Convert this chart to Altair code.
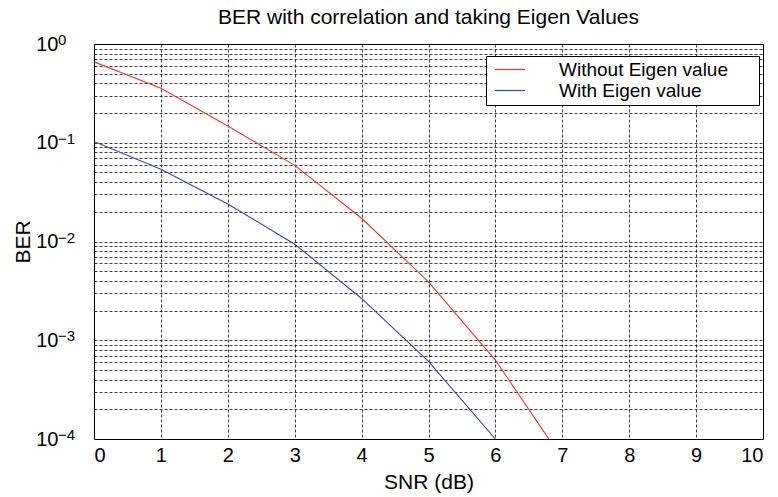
import altair as alt
import pandas as pd

# ---- data ----
snr_without = [0, 1, 2, 3, 4, 5, 6, 7]
ber_without = [0.66, 0.356, 0.148, 0.059, 0.0172, 0.0039, 0.00063, 0.000063]
snr_with = [0, 1, 2, 3, 4, 5, 6]
ber_with = [0.103, 0.054, 0.024, 0.0094, 0.00265, 0.00061, 0.0001]
series_names = ["Without Eigen value", "With Eigen value"]
series_colors = ["#e8372c", "#3447a8"]

x_ticks = [0, 1, 2, 3, 4, 5, 6, 7, 8, 9, 10]
y_major = [1, 0.1, 0.01, 0.001, 0.0001]
y_major_exponents = ["0", "\u22121", "\u22122", "\u22123", "\u22124"]
y_grid = [m * 10.0 ** k for k in range(-4, 0) for m in range(1, 10)] + [1.0]

rows = []
for s, b in zip(snr_without, ber_without):
    rows.append({"snr": s, "ber": b, "series": series_names[0]})
for s, b in zip(snr_with, ber_with):
    rows.append({"snr": s, "ber": b, "series": series_names[1]})
df = pd.DataFrame(rows)
exp_df = pd.DataFrame({"ber": y_major, "exp": y_major_exponents})

expr = ""
for v in y_major:
    expr += f"abs(datum.value - {v}) < {v * 1e-6} ? '10' : "
expr += "''"

FONT = "Liberation Sans"
NBSP = "\u00a0"
ZWSP = "\u200b"

y_scale = alt.Scale(type="log", domain=[0.0001, 1], nice=False)

lines = (
    alt.Chart(df)
    .mark_line(strokeWidth=1.1, clip=True)
    .encode(
        x=alt.X(
            "snr:Q",
            title="SNR (dB)",
            scale=alt.Scale(domain=[0, 10], nice=False, zero=False),
            axis=alt.Axis(values=x_ticks, format="d", labelPadding=6, titlePadding=6),
        ),
        y=alt.Y(
            "ber:Q",
            title="BER",
            scale=y_scale,
            axis=alt.Axis(values=y_grid, labelExpr=expr, labelPadding=36, titlePadding=2),
        ),
        color=alt.Color(
            "series:N",
            scale=alt.Scale(domain=series_names, range=series_colors),
            legend=alt.Legend(
                title=None,
                orient="none",
                legendX=392,
                legendY=12,
                strokeColor="black",
                fillColor="white",
                padding=4,
                symbolType="M-0.6,0L3.4,0",
                symbolSize=225,
                symbolStrokeWidth=1.2,
                labelOffset=50,
                labelFontSize=19,
                labelFont=FONT,
                labelColor="black",
                labelLimit=400,
                rowPadding=1,
                labelExpr=f"datum.label + '{NBSP * 5}{ZWSP}'",
            ),
        ),
        order=alt.Order("snr:Q"),
    )
)

exps = (
    alt.Chart(exp_df)
    .mark_text(align="left", baseline="alphabetic", fontSize=15, font=FONT, color="black", dy=1)
    .encode(
        x=alt.value(-36),
        y=alt.Y("ber:Q", scale=y_scale),
        text="exp:N",
    )
)

chart = (
    alt.layer(lines, exps)
    .properties(
        width=669,
        height=395,
        background="white",
        title=alt.TitleParams(
            "BER with correlation and taking Eigen Values",
            fontSize=21,
            fontWeight="normal",
            font=FONT,
            color="black",
            offset=5,
        ),
        autosize=alt.AutoSizeParams(type="none"),
        padding={"left": 94, "top": 44, "right": 15, "bottom": 58},
    )
    .configure_view(stroke="black", strokeWidth=1)
    .configure_axis(
        grid=True,
        gridDash=[3, 2],
        gridColor="#000000",
        gridOpacity=0.75,
        gridWidth=1,
        domain=False,
        ticks=False,
        labelFont=FONT,
        labelFontSize=20,
        labelColor="black",
        titleFont=FONT,
        titleFontSize=21,
        titleFontWeight="normal",
        titleColor="black",
    )
)

chart.save("out.html", embed_options={"renderer": "svg", "actions": False})
